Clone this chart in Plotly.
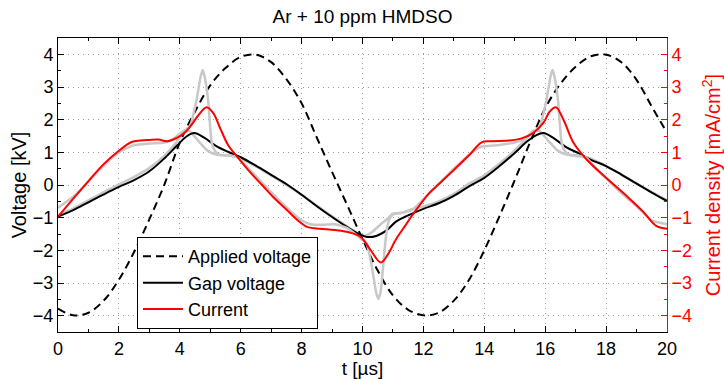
import plotly.graph_objects as go

# ---------------- data ----------------
t_applied = [0, 0.5, 1, 1.5, 2, 2.5, 3, 3.5, 4, 4.5, 5, 5.5, 6, 6.5, 7, 7.5, 8, 8.5, 9, 9.5,
             10, 10.5, 11, 11.5, 12, 12.5, 13, 13.5, 14, 14.5, 15, 15.5, 16, 16.5, 17, 17.5,
             18, 18.5, 19, 19.5, 20]
v_applied = [-3.78, -3.99, -3.91, -3.54, -2.90, -2.05, -1.05, 0.03, 1.30, 2.25, 3.05, 3.58,
             3.92, 3.99, 3.76, 3.24, 2.50, 1.45, 0.40, -0.62, -1.65, -2.62, -3.38, -3.82,
             -3.99, -3.91, -3.54, -2.90, -2.00, -0.95, 0.15, 1.30, 2.35, 3.10, 3.62, 3.94,
             3.99, 3.76, 3.22, 2.40, 1.60]

t_gap = [0, 0.5, 1, 1.5, 2, 2.5, 3, 3.5, 3.9, 4.2, 4.47, 4.8, 5.2, 5.6, 6, 6.5, 7, 7.5, 8,
         8.5, 9, 9.5, 9.9, 10.14, 10.45, 10.8, 11.1, 11.5, 12, 12.5, 13, 13.5, 14, 14.5, 15,
         15.4, 15.7, 15.94, 16.3, 16.7, 17.1, 17.5, 18, 18.5, 19, 19.5, 20]
v_gap = [-0.97, -0.77, -0.53, -0.29, -0.06, 0.15, 0.42, 0.82, 1.20, 1.47, 1.59, 1.45, 1.19,
         1.01, 0.85, 0.59, 0.31, 0.03, -0.30, -0.65, -0.98, -1.29, -1.51, -1.59, -1.56,
         -1.38, -1.12, -0.93, -0.73, -0.56, -0.33, -0.04, 0.22, 0.58, 0.98, 1.33, 1.52,
         1.59, 1.42, 1.15, 0.97, 0.77, 0.58, 0.32, 0.04, -0.23, -0.49]

t_cur = [0, 0.5, 1, 1.5, 2, 2.4, 2.7, 3, 3.3, 3.6, 3.9, 4.15, 4.35, 4.6, 4.88, 5.1, 5.32,
         5.6, 5.9, 6.3, 6.7, 7.1, 7.5, 7.9, 8.2, 8.6, 9.1, 9.6, 9.95, 10.25, 10.6, 10.85,
         11.1, 11.4, 11.7, 12.2, 12.5, 13, 13.5, 13.9, 14.2, 14.8, 15.2, 15.6, 15.94, 16.15,
         16.35, 16.6, 16.93, 17.36, 18, 18.7, 19.2, 19.66, 20]
j_cur = [-0.97, -0.42, 0.12, 0.64, 1.05, 1.31, 1.36, 1.38, 1.39, 1.34, 1.44, 1.59, 1.80,
         2.12, 2.38, 2.20, 1.75, 1.20, 0.85, 0.40, 0.00, -0.40, -0.75, -1.10, -1.29, -1.34,
         -1.38, -1.46, -1.60, -1.97, -2.37, -2.10, -1.66, -1.25, -0.84, -0.24, 0.02, 0.46,
         0.91, 1.30, 1.34, 1.36, 1.42, 1.59, 1.90, 2.25, 2.38, 2.00, 1.29, 0.78, 0.22,
         -0.36, -0.80, -1.26, -1.34]

# light-grey companion curves
t_gap_g = [0, 0.5, 1, 1.5, 2, 2.5, 3, 3.5, 3.9, 4.1, 4.3, 4.6, 4.9, 5.2, 5.6, 5.9, 6.5, 7,
           7.5, 8, 8.5, 9, 9.5, 9.9, 10.1, 10.3, 10.6, 10.8, 11, 11.3, 11.6, 12, 12.5, 13,
           13.5, 14, 14.5, 15, 15.4, 15.6, 15.8, 16.1, 16.4, 16.7, 17.1, 17.4, 18, 18.5,
           19, 19.5, 20]
v_gap_g = [-0.92, -0.72, -0.47, -0.22, 0.02, 0.25, 0.52, 0.90, 1.32, 1.60, 1.66, 1.36,
           1.06, 0.93, 0.90, 0.85, 0.57, 0.29, 0.0, -0.30, -0.63, -0.96, -1.27, -1.50,
           -1.55, -1.45, -1.20, -1.05, -0.88, -0.85, -0.75, -0.66, -0.50, -0.27, 0.04,
           0.30, 0.66, 1.06, 1.45, 1.66, 1.66, 1.36, 1.06, 0.93, 0.88, 0.84, 0.58, 0.32,
           0.05, -0.22, -0.47]

t_cur_g = [0, 0.3, 0.6, 1, 1.5, 2, 2.5, 3, 3.5, 3.8, 4.1, 4.33, 4.55, 4.68, 4.75, 4.82,
           4.93, 5.05, 5.16, 5.3, 5.6, 5.85, 6.0, 6.5, 7, 7.5, 8, 8.3, 8.7, 9.1, 9.5, 9.97,
           10.14, 10.3, 10.45, 10.52, 10.59, 10.68, 10.78, 10.88, 11.0, 11.3, 11.6, 11.9,
           12.2, 12.6, 13, 13.5, 13.9, 14.2, 14.6, 15, 15.3, 15.6, 15.82, 16.04, 16.17,
           16.24, 16.31, 16.42, 16.54, 16.65, 16.79, 17.1, 17.34, 17.6, 18, 18.5, 19, 19.5,
           20]
j_cur_g = [-0.70, -0.50, -0.28, 0.10, 0.60, 1.00, 1.22, 1.27, 1.30, 1.42, 1.64, 1.79,
           2.60, 3.30, 3.52, 3.30, 2.60, 1.29, 1.03, 0.93, 0.90, 0.87, 0.76, 0.27, -0.22,
           -0.68, -1.08, -1.20, -1.22, -1.20, -1.32, -1.66, -1.80, -2.47, -3.30, -3.49,
           -3.30, -2.47, -1.50, -1.05, -0.90, -0.85, -0.78, -0.54, -0.24, 0.12, 0.50, 0.93,
           1.18, 1.20, 1.24, 1.30, 1.40, 1.62, 1.79, 2.60, 3.30, 3.52, 3.30, 2.60, 1.29,
           1.03, 0.93, 0.90, 0.85, 0.58, 0.20, -0.25, -0.65, -1.08, -1.20]

x_ticks = list(range(0, 21, 2))
y_ticks = list(range(-4, 5, 1))

# ---------------- figure ----------------
FONT = "Liberation Sans, Arial, Helvetica, sans-serif"
GREY = "#c8c8c8"
GRID = "#9a9a9a"

fig = go.Figure()

fig.add_trace(go.Scatter(x=t_gap_g, y=v_gap_g, mode="lines", showlegend=False,
                         line=dict(color=GREY, width=2.5, shape="spline", smoothing=0.6),
                         hoverinfo="skip"))
fig.add_trace(go.Scatter(x=t_cur_g, y=j_cur_g, mode="lines", showlegend=False, yaxis="y2",
                         line=dict(color=GREY, width=2.5, shape="spline", smoothing=0.5),
                         hoverinfo="skip"))
fig.add_trace(go.Scatter(x=t_applied, y=v_applied, mode="lines", name="Applied voltage",
                         line=dict(color="black", width=2, dash="8px,5px", shape="spline")))
fig.add_trace(go.Scatter(x=t_gap, y=v_gap, mode="lines", name="Gap voltage",
                         line=dict(color="black", width=2, shape="spline")))
fig.add_trace(go.Scatter(x=t_cur, y=j_cur, mode="lines", name="Current", yaxis="y2",
                         line=dict(color="#ff0000", width=2, shape="spline")))

tickfont = dict(family=FONT, size=18, color="black")

fig.update_layout(
    width=724, height=379,
    margin=dict(l=58, r=57, t=38, b=47, autoexpand=False),
    paper_bgcolor="white", plot_bgcolor="white",
    font=dict(family=FONT, size=18, color="black"),
    title=dict(text="Ar + 10 ppm HMDSO", x=0.5, xref="paper", xanchor="center",
               y=1, yref="container", yanchor="top", pad=dict(t=10),
               font=dict(family=FONT, size=19, color="black")),
    showlegend=True,
    legend=dict(x=0.1297, y=0.323, xanchor="left", yanchor="top",
                bgcolor="white", bordercolor="black", borderwidth=1,
                font=dict(family=FONT, size=18, color="black"),
                itemwidth=40, traceorder="normal"),
    xaxis=dict(range=[0, 20], tickvals=x_ticks, ticks="inside", ticklen=6,
               tickcolor="black", showline=True, linecolor="black", linewidth=1,
               mirror="ticks", showgrid=True, gridcolor=GRID, griddash="1px,4px",
               gridwidth=1, zeroline=False, tickfont=tickfont, automargin=False,
               title=dict(text="t [µs]", standoff=0, font=dict(family=FONT, size=19)),
               minor=dict(dtick=1, ticks="inside", ticklen=3, tickcolor="black",
                          showgrid=False)),
    yaxis=dict(range=[-4.5, 4.5], tickvals=y_ticks, ticks="inside", ticklen=6,
               tickcolor="black", showline=True, linecolor="black", linewidth=1,
               showgrid=True, gridcolor=GRID, griddash="1px,4px", gridwidth=1,
               zeroline=False, tickfont=tickfont, automargin=False,
               title=dict(text="Voltage [kV]", standoff=0, font=dict(family=FONT, size=20)),
               minor=dict(dtick=0.5, ticks="inside", ticklen=3, tickcolor="black",
                          showgrid=False)),
    yaxis2=dict(range=[-4.5, 4.5], tickvals=y_ticks, overlaying="y", side="right",
                ticks="inside", ticklen=6, tickcolor="#ff0000", showline=True,
                linecolor="#ff0000", linewidth=1, showgrid=False, zeroline=False,
                tickfont=dict(family=FONT, size=18, color="#ff0000"), automargin=False,
                title=dict(text="Current density [mA/cm<sup>2</sup>]", standoff=15,
                           font=dict(family=FONT, size=20, color="#ff0000")),
                minor=dict(dtick=0.5, ticks="inside", ticklen=3, tickcolor="#ff0000",
                           showgrid=False)),
)

fig.write_html("out.html", config={"displayModeBar": False},
               post_script="document.body.style.margin='0';document.body.style.padding='0';")
